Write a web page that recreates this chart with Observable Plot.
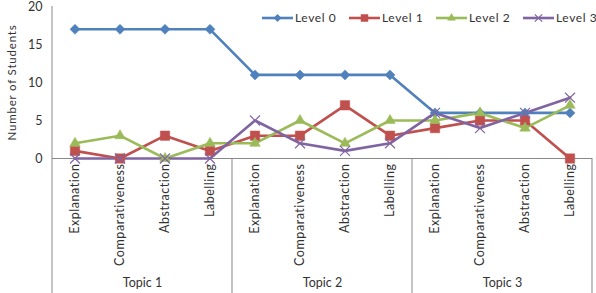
<!DOCTYPE html>
<html>
<head>
<meta charset="utf-8">
<script src="https://cdn.jsdelivr.net/npm/d3@7"></script>
<script src="https://cdn.jsdelivr.net/npm/@observablehq/plot@0.6"></script>
<style>
  html, body { margin: 0; padding: 0; background: #fff; }
  #chart { position: relative; width: 596px; height: 293px; overflow: hidden; }
  #legend {
    position: absolute; top: 10px; left: 262px; width: 360px;
    display: flex; align-items: center; white-space: nowrap;
    font-family: Lato, sans-serif; font-size: 12px; color: #333;
    letter-spacing: 0.6px;
  }
  #legend .item { display: flex; align-items: center; width: 87px; }
  #legend svg { margin-right: 2px; }
  .xticks text { letter-spacing: 0.55px; }
</style>
</head>
<body>
<div id="chart"><div id="legend"></div></div>
<script>
// Students at each reasoning level, per topic and aspect
const topics = ["Topic 1", "Topic 2", "Topic 3"];
const aspects = ["Explanation", "Comparativeness", "Abstraction", "Labelling"];
const levels = ["Level 0", "Level 1", "Level 2", "Level 3"];
const level0 = [17, 17, 17, 17, 11, 11, 11, 11, 6, 6, 6, 6];
const level1 = [1, 0, 3, 1, 3, 3, 7, 3, 4, 5, 5, 0];
const level2 = [2, 3, 0, 2, 2, 5, 2, 5, 5, 6, 4, 7];
const level3 = [0, 0, 0, 0, 5, 2, 1, 2, 6, 4, 6, 8];
const yTicks = [0, 5, 10, 15, 20];

const colors = ["#4F81BD", "#C0504D", "#9BBB59", "#8064A2"];
const symbols = ["diamond2", "square", "triangle", "times"];
const symbolR = [4.5, 5.3, 3.9, 4.6];

const series = [level0, level1, level2, level3];
const rows = series.flatMap((vals, li) => vals.map((v, i) => ({
  level: levels[li],
  idx: i,
  topic: topics[Math.floor(i / aspects.length)],
  aspect: aspects[i % aspects.length],
  value: v
})));

const n = topics.length * aspects.length;
const groupEdges = d3.range(topics.length + 1).map(t => t * aspects.length - 0.5);

const plot = Plot.plot({
  width: 596,
  height: 293,
  marginLeft: 52,
  marginRight: 4,
  marginTop: 6,
  marginBottom: 135,
  style: { fontFamily: "Lato, sans-serif", fontSize: "12px", color: "#333", background: "white" },
  x: { domain: [-0.5, n - 0.5], axis: null },
  y: { domain: [0, 20], axis: null },
  color: { domain: levels, range: colors },
  symbol: { domain: levels, range: symbols },
  marks: [
    Plot.axisY({ ticks: yTicks, tickSize: 0, tickPadding: 10, label: null, fontSize: 12.5 }),
    Plot.axisX({
      ticks: d3.range(n), tickFormat: i => aspects[i % aspects.length],
      tickRotate: -90, tickSize: 0, tickPadding: 5, label: null, fontSize: 12.5,
      className: "xticks"
    }),
    Plot.text(["Number of Students"], {
      frameAnchor: "left", textAnchor: "middle", rotate: -90, dx: -40,
      text: d => d, fontSize: 11.5, className: "ylabel"
    }),
    Plot.text(topics, {
      x: (d, i) => i * aspects.length + (aspects.length - 1) / 2,
      y: 0, dy: 124, text: d => d, fontSize: 12.5
    }),
    Plot.ruleY([0], { stroke: "#888" }),
    Plot.line(rows, { x: "idx", y: "value", z: "level", stroke: "level", strokeWidth: 2.6 }),
    ...levels.map((lv, li) => Plot.dot(rows.filter(d => d.level === lv), {
      x: "idx", y: "value", symbol: "level",
      r: symbolR[li],
      fill: li === 3 ? "none" : "level",
      stroke: "level",
      strokeWidth: li === 3 ? 1.2 : 0.5
    }))
  ]
});

document.getElementById("chart").prepend(plot);

// Axis line and topic separators reaching down through the label area
const sx = plot.scale("x"), sy = plot.scale("y");
const svg = d3.select(plot);
groupEdges.forEach((e, k) => {
  svg.append("line")
    .attr("x1", sx.apply(e)).attr("x2", sx.apply(e))
    .attr("y1", k === 0 ? sy.apply(20) : sy.apply(0))
    .attr("y2", 293)
    .attr("stroke", "#888").attr("stroke-width", 1);
});
svg.selectAll(".ylabel text").style("letter-spacing", "0.8px");

// Legend: line swatch with a small marker, then label
const legend = d3.select("#legend");
const d3Symbols = { diamond2: d3.symbolDiamond2, square: d3.symbolSquare, triangle: d3.symbolTriangle, times: d3.symbolTimes };
levels.forEach((lv, li) => {
  const item = legend.append("div").attr("class", "item");
  const s = item.append("svg").attr("width", 31).attr("height", 12);
  s.append("line").attr("x1", 0).attr("x2", 31).attr("y1", 6).attr("y2", 6)
    .attr("stroke", colors[li]).attr("stroke-width", 2.6);
  s.append("path")
    .attr("transform", "translate(15.5,6)")
    .attr("d", d3.symbol(d3Symbols[symbols[li]], Math.PI * symbolR[li] * symbolR[li] * 0.55)())
    .attr("fill", li === 3 ? "none" : colors[li])
    .attr("stroke", colors[li]).attr("stroke-width", li === 3 ? 1.2 : 0.5);
  item.append("span").text(lv);
});
</script>
</body>
</html>
